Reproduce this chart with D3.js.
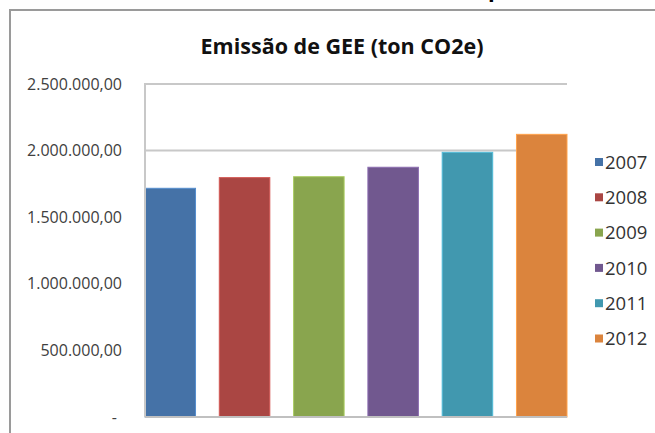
<!DOCTYPE html>
<html>
<head>
<meta charset="utf-8">
<script src="https://cdn.jsdelivr.net/npm/d3@7/dist/d3.min.js"></script>
<style>
  html, body { margin: 0; padding: 0; background: #fff; }
  svg { display: block; }
  text { font-family: "Open Sans", "DejaVu Sans", sans-serif; }
</style>
</head>
<body>
<svg id="chart" width="655" height="433"></svg>
<script>
// Emissions by year (ton CO2e)
const years = ["2007", "2008", "2009", "2010", "2011", "2012"];
const emissions = [1717000, 1797000, 1804000, 1875000, 1987000, 2122000];
const yTicks = [0, 500000, 1000000, 1500000, 2000000, 2500000];
const colors = ["#4572A7", "#AA4643", "#89A54E", "#71588F", "#4198AF", "#DB843D"];
const title = "Emissão de GEE (ton CO2e)";

const data = years.map((y, i) => ({ year: y, value: emissions[i], color: colors[i] }));

const svg = d3.select("#chart");
const W = 655, H = 433;

// plot area
const plot = { left: 145, right: 567, top: 84, bottom: 417 };

const x = d3.scaleBand()
  .domain(years)
  .range([plot.left, plot.right])
  .paddingInner(0.32)
  .paddingOuter(0);

const y = d3.scaleLinear()
  .domain([0, 2500000])
  .range([plot.bottom, plot.top]);

// brazilian number format: 2.500.000,00
const ptBR = d3.formatLocale({ decimal: ",", thousands: ".", grouping: [3], currency: ["R$", ""] });
const fmt = ptBR.format(",.2f");
const tickLabel = v => v === 0 ? "-" : fmt(v);

// piece of a heading above the frame, cut off at the top edge
svg.append("text")
  .attr("x", 488).attr("y", -3)
  .attr("font-size", 22).attr("font-weight", "bold")
  .attr("fill", "#000")
  .text("p");

// chart frame (top and left edges are in view)
svg.append("path")
  .attr("d", `M10,${H + 5} V10 H${W + 5}`)
  .attr("fill", "none")
  .attr("stroke", "#9a9a9a")
  .attr("stroke-width", 2);

// title
svg.append("text")
  .attr("x", 342).attr("y", 54)
  .attr("text-anchor", "middle")
  .attr("font-size", 21.5).attr("font-weight", "bold")
  .attr("fill", "#111")
  .text(title);

// gridlines above the shortest bar
const minVal = d3.min(emissions);
svg.append("g")
  .selectAll("line")
  .data(yTicks.filter(t => t > minVal))
  .join("line")
  .attr("x1", plot.left).attr("x2", plot.right)
  .attr("y1", d => y(d)).attr("y2", d => y(d))
  .attr("stroke", "#c8c8c8")
  .attr("stroke-width", 2);

// y axis labels
const yAxis = d3.axisLeft(y).tickValues(yTicks).tickFormat(tickLabel).tickSize(0).tickPadding(0);
const gy = svg.append("g")
  .attr("transform", `translate(${plot.left - 23},0)`)
  .call(yAxis);
gy.select(".domain").remove();
gy.selectAll("text")
  .attr("font-size", 16)
  .attr("fill", "#404040")
  .attr("font-family", "\"Open Sans\", sans-serif")
  .attr("dx", d => d === 0 ? -5 : 0);

// bars
svg.append("g")
  .selectAll("rect")
  .data(data)
  .join("rect")
  .attr("x", d => x(d.year))
  .attr("y", d => y(d.value))
  .attr("width", x.bandwidth())
  .attr("height", d => y(0) - y(d.value))
  .attr("fill", d => d.color)
  .attr("stroke", d => d3.color(d.color).brighter(0.6))
  .attr("stroke-width", 1);

// axis lines
svg.append("line")
  .attr("x1", plot.left).attr("x2", plot.left)
  .attr("y1", plot.top - 1).attr("y2", plot.bottom)
  .attr("stroke", "#c8c8c8").attr("stroke-width", 2);
svg.append("line")
  .attr("x1", plot.left).attr("x2", plot.right)
  .attr("y1", plot.bottom).attr("y2", plot.bottom)
  .attr("stroke", "#c0c0c0").attr("stroke-width", 2);

// legend
const legend = svg.append("g").attr("transform", "translate(595,162)");
const item = legend.selectAll("g")
  .data(data)
  .join("g")
  .attr("transform", (d, i) => `translate(0,${i * 35.3})`);
item.append("rect")
  .attr("x", 0).attr("y", -4)
  .attr("width", 8).attr("height", 8)
  .attr("fill", d => d.color);
item.append("text")
  .attr("x", 10).attr("y", 0)
  .attr("dy", "0.36em")
  .attr("font-size", 18.5)
  .attr("fill", "#333")
  .text(d => d.year);
</script>
</body>
</html>
